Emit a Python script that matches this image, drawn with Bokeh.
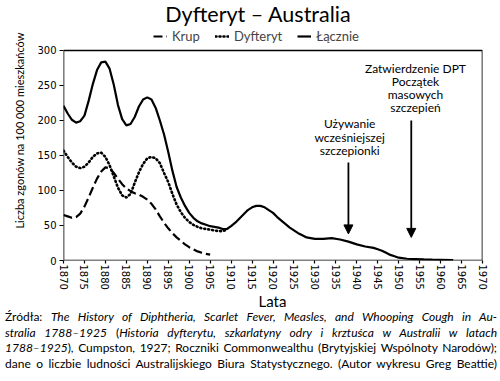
from bokeh.plotting import figure
from bokeh.models import (Range1d, FixedTicker, Legend, LegendItem, Arrow, NormalHead, Div, Label)
from bokeh.layouts import column
from bokeh.core.properties import value
from bokeh.embed import file_html
from bokeh.resources import INLINE

# ---- data ----
total_years = [1870, 1871, 1872, 1873, 1874, 1875, 1876, 1877, 1878, 1879, 1880, 1881, 1882, 1883,
               1884, 1885, 1886, 1887, 1888, 1889, 1890, 1891, 1892, 1893, 1894, 1895, 1896, 1897,
               1898, 1899, 1900, 1901, 1902, 1903, 1904, 1905, 1906, 1907, 1908, 1909, 1910, 1911,
               1912, 1913, 1914, 1915, 1916, 1917, 1918, 1919, 1920, 1921, 1922, 1923, 1924, 1925,
               1926, 1927, 1928, 1930, 1932, 1934, 1936, 1938, 1940, 1942, 1944, 1945, 1946, 1947,
               1948, 1949, 1950, 1952, 1954, 1956, 1958, 1960, 1963]
total_vals = [221, 210, 201, 197, 199, 207, 228, 252, 272, 283, 284, 274, 251, 222,
              202, 193, 195, 205, 220, 230, 233, 230, 218, 200, 180, 155, 128, 105,
              90, 78, 68, 61, 56, 53, 51, 49, 48, 47, 45, 45, 49, 54,
              60, 66, 72, 76, 78, 78, 76, 72, 68, 62, 57, 52, 47, 43,
              39, 36, 33, 31, 31, 32, 30, 27, 23, 20, 18, 16, 14, 11,
              8, 6, 4, 2.5, 2, 1.5, 1.2, 1, 0.5]

diph_years = [1870, 1871, 1872, 1873, 1874, 1875, 1876, 1877, 1878, 1879, 1880, 1881, 1882, 1883,
              1884, 1885, 1886, 1887, 1888, 1889, 1890, 1891, 1892, 1893, 1894, 1895, 1896, 1897,
              1898, 1899, 1900, 1901, 1902, 1903, 1904, 1905, 1906, 1907, 1908, 1909]
diph_vals = [157, 148, 140, 134, 132, 134, 140, 148, 153, 154, 148, 136, 120, 104,
             93, 90, 95, 111, 126, 138, 146, 148, 146, 139, 125, 112, 95, 80,
             69, 61, 55, 51, 48, 46, 45, 44, 43, 42, 42, 44]

croup_years = [1870, 1871, 1872, 1873, 1874, 1875, 1876, 1877, 1878, 1879, 1880, 1881, 1882, 1883,
               1884, 1885, 1886, 1887, 1888, 1889, 1890, 1891, 1892, 1893, 1894, 1895, 1896, 1897,
               1898, 1899, 1900, 1901, 1902, 1903, 1904, 1905]
croup_vals = [65, 63, 61, 62, 67, 77, 90, 104, 117, 127, 133, 132, 125, 117,
              109, 103, 99, 96, 94, 91, 87, 81, 73, 63, 54, 46, 39, 33,
              28, 23, 19, 16, 13, 11, 9.5, 8.5]

x_ticks = list(range(1870, 1971, 5))
y_ticks = [0, 50, 100, 150, 200, 250, 300]

series_labels = ["Krup", "Dyfteryt", "Łącznie"]
x_label = "Lata"

FONT = "Lato"

# the frame extends above the plotted box so the title and legend can live inside it
p = figure(frame_width=419, frame_height=260, output_backend="svg", toolbar_location=None,
           x_range=Range1d(x_ticks[0], x_ticks[-1]), y_range=Range1d(0, 371.4),
           min_border_left=63, min_border_right=18, min_border_top=0, min_border_bottom=0)

p.outline_line_color = None
p.xgrid.visible = False
p.ygrid.visible = False

# plot box
p.quad(left=x_ticks[0], right=x_ticks[-1], bottom=y_ticks[0], top=y_ticks[-1],
       fill_color=None, line_color="black", line_width=1.6)

r_croup = p.line(croup_years, croup_vals, line_color="black", line_width=2.2, line_dash="9 4")
r_diph = p.line(diph_years, diph_vals, line_color="black", line_width=2.6, line_dash="1 3",
                line_cap="round")
r_total = p.line(total_years, total_vals, line_color="black", line_width=2.2)

p.add_layout(Label(x=1916.5, y=352.5, text="Dyfteryt – Australia", text_font=FONT,
                   text_font_size="21.5px", text_align="center", text_baseline="middle",
                   text_color="black"))

legend = Legend(items=[LegendItem(label=series_labels[0], renderers=[r_croup]),
                       LegendItem(label=series_labels[1], renderers=[r_diph]),
                       LegendItem(label=series_labels[2], renderers=[r_total])],
                orientation="horizontal", location=(90, 216),
                label_text_font=FONT, label_text_font_size="13px",
                glyph_width=14, glyph_height=12, label_standoff=5, spacing=15,
                padding=0, margin=0, border_line_color=None, background_fill_alpha=0)
p.add_layout(legend, "center")

for ax in (p.xaxis[0], p.yaxis[0]):
    ax.axis_line_color = None
    ax.major_tick_line_color = "black"
    ax.major_tick_line_width = 1.2
    ax.major_tick_in = 0
    ax.major_tick_out = 4
    ax.minor_tick_line_color = None
    ax.major_label_text_font = "DejaVu Sans"
    ax.major_label_text_font_size = "10px"
    ax.major_label_text_color = "black"
    ax.axis_label_text_font = FONT
    ax.axis_label_text_font_style = "normal"
    ax.axis_label_text_color = "black"

p.xaxis[0].ticker = FixedTicker(ticks=x_ticks)
p.xaxis[0].major_label_orientation = "vertical"
p.xaxis[0].major_tick_out = 3
p.xaxis[0].major_label_standoff = 1

p.yaxis[0].ticker = FixedTicker(ticks=y_ticks)
p.yaxis[0].axis_label = "Liczba zgonów na 100 000 mieszkańców"
p.yaxis[0].axis_label_text_font_size = "11px"
p.yaxis[0].axis_label_standoff = 8
p.yaxis[0].major_label_standoff = 3

# arrows
head = dict(size=9, fill_color="black", line_color="black")
p.add_layout(Arrow(end=NormalHead(**head), x_start=1938, y_start=140, x_end=1938, y_end=38,
                   line_color="black", line_width=1.8))
p.add_layout(Arrow(end=NormalHead(**head), x_start=1953, y_start=200, x_end=1953, y_end=33,
                   line_color="black", line_width=1.8))

ann_lines = ["Zatwierdzenie DPT", "Początek", "masowych", "szczepień",
             "Używanie", "wcześniejszej", "szczepionki"]
ann_x = [1954, 1954, 1954, 1954, 1938.3, 1938.3, 1938.3]
ann_y = [274, 255, 237, 219, 195, 176, 157]
p.text(ann_x, ann_y, text=ann_lines, text_font=value(FONT), text_font_size="12px",
       text_align="center", text_baseline="middle", text_color="black")

lines = [
    "Źródła: <i>The History of Diphtheria, Scarlet Fever, Measles, and Whooping Cough in Au-</i>",
    "<i>stralia 1788–1925</i> (<i>Historia dyfterytu, szkarlatyny odry i krztuśca w Australii w latach</i>",
    "<i>1788–1925</i>), Cumpston, 1927; Roczniki Commonwealthu (Brytyjskiej Wspólnoty Narodów);",
    "dane o liczbie ludności Australijskiego Biura Statystycznego. (Autor wykresu Greg Beattie)",
]
html = (f'<div style="position:relative;left:28px;width:489px;text-align:center;'
        f'font-size:15px;height:15px;line-height:15px;">{x_label}</div>')
html += '<div style="margin-left:5px;width:492px;">'
for ln in lines:
    html += (f'<div style="text-align:justify;text-align-last:justify;white-space:nowrap;'
             f'height:15.5px;line-height:15.5px;">{ln}</div>')
html += '</div>'
div = Div(text=html, width=500, height=77, margin=(2, 0, 0, 0),
          styles={"font-family": FONT, "font-size": "12px", "color": "black"})

layout = column(p, div, spacing=0)
open("out.html", "w").write(file_html(layout, INLINE))
